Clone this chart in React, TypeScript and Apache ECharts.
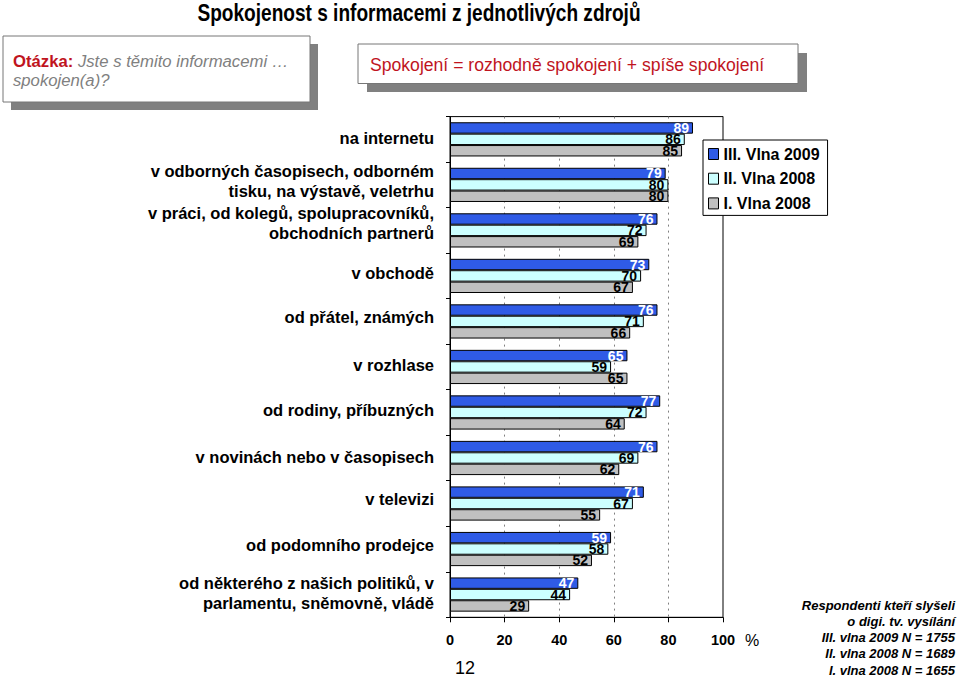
import React, { useEffect, useRef } from 'react';
import * as echarts from 'echarts';

const categories = [
  'na internetu',
  'v odborných časopisech, odborném\ntisku, na výstavě, veletrhu',
  'v práci, od kolegů, spolupracovníků,\nobchodních partnerů',
  'v obchodě',
  'od přátel, známých',
  'v rozhlase',
  'od rodiny, příbuzných',
  'v novinách nebo v časopisech',
  'v televizi',
  'od podomního prodejce',
  'od některého z našich politiků, v\nparlamentu, sněmovně, vládě',
];
const wave3 = [89, 79, 76, 73, 76, 65, 77, 76, 71, 59, 47];
const wave2 = [86, 80, 72, 70, 71, 59, 72, 69, 67, 58, 44];
const wave1 = [85, 80, 69, 67, 66, 65, 64, 62, 55, 52, 29];
const seriesNames = ['III. Vlna 2009', 'II. Vlna 2008', 'I. Vlna 2008'];
const axisMin = 0;
const axisMax = 100;
const axisStep = 20;
const titleText = 'Spokojenost s informacemi z jednotlivých zdrojů';
const questionLabel = 'Otázka:';
const questionText = ['Jste s těmito informacemi …', 'spokojen(a)?'];
const definitionText = 'Spokojení = rozhodně spokojení + spíše spokojení';
const footnoteLines = [
  'Respondenti kteří slyšeli',
  'o digi. tv. vysílání',
  'III. vlna 2009 N = 1755',
  'II. vlna 2008 N = 1689',
  'I. vlna 2008 N = 1655',
];
const unitText = '%';
const pageNumber = '12';

// styling (not data)
const seriesColors = ['#2F5BE6', '#CCFFFF', '#C0C0C0'];
const labelColors = ['#FFFFFF', '#000000', '#000000'];
const labelLift = [1, 4, 7, 3, 4, 2, 2, 1, 5, 4, 2];
const FONT = '"Liberation Sans", Arial, Helvetica, sans-serif';
const RED = '#C0141E';

export default function App() {
  const ref = useRef<HTMLDivElement>(null);
  useEffect(() => {
    if (!ref.current) return;
    const chart = echarts.init(ref.current, undefined, { renderer: 'svg' });
    const data = [wave3, wave2, wave1];
    const rich: any = {
      t: { fontFamily: FONT, fontSize: 16.5, fontWeight: 'bold', color: '#000', lineHeight: 20, align: 'right' },
    };
    labelLift.forEach((l, i) => {
      rich['s' + i] = { fontSize: 1, lineHeight: Math.max(1, l * 2), color: 'transparent' };
    });
    const option: any = {
      animation: false,
      backgroundColor: '#FFFFFF',
      textStyle: { fontFamily: FONT },
      grid: { left: 450, right: 237, top: 116.6, bottom: 60.7, show: true, borderColor: '#000', borderWidth: 1, backgroundColor: 'transparent' },
      legend: {
        orient: 'vertical',
        left: 703,
        top: 140,
        padding: [5, 8, 3, 5],
        itemWidth: 10,
        itemHeight: 11,
        itemGap: 6.7,
        borderColor: '#000',
        borderWidth: 1,
        backgroundColor: '#FFFFFF',
        textStyle: { fontFamily: FONT, fontSize: 16, fontWeight: 'bold', color: '#000', lineHeight: 18 },
        itemStyle: { borderColor: '#000', borderWidth: 1 },
        data: seriesNames.map((n) => ({ name: n, icon: 'rect' })),
      },
      xAxis: {
        type: 'value',
        min: axisMin,
        max: axisMax,
        interval: axisStep,
        axisLine: { show: true, lineStyle: { color: '#000', width: 1 } },
        axisTick: { show: true, length: 5, lineStyle: { color: '#000' } },
        axisLabel: { fontFamily: FONT, fontSize: 14.5, fontWeight: 'bold', color: '#000', margin: 15 },
        splitLine: { show: true, lineStyle: { color: '#808080', type: [2, 4], width: 1 } },
      },
      yAxis: {
        type: 'category',
        inverse: true,
        data: categories,
        axisLine: { show: true, lineStyle: { color: '#000', width: 1 } },
        axisTick: { show: true, length: 4, lineStyle: { color: '#000' } },
        axisLabel: {
          fontFamily: FONT,
          fontSize: 16.5,
          fontWeight: 'bold',
          color: '#000',
          margin: 16,
          lineHeight: 20,
          align: 'right',
          formatter: (value: string, index: number) =>
            value.split('\n').map((l) => `{t|${l}}`).join('\n') + `\n{s${index}| }`,
          rich,
        },
        splitLine: { show: false },
      },
      series: data.map((d, i) => ({
        type: 'bar',
        name: seriesNames[i],
        data: d,
        barWidth: 11.4,
        barGap: '0%',
        itemStyle: { color: seriesColors[i], borderColor: '#000', borderWidth: 1 },
        label: {
          show: true,
          position: 'insideRight',
          distance: 4,
          fontFamily: FONT,
          fontSize: 14,
          fontWeight: 'bold',
          color: labelColors[i],
        },
      })),
      graphic: [
        { type: 'text', x: 419, y: 13, scaleX: 0.83, style: { x: 0, y: 0, text: titleText, font: `bold 23px ${FONT}`, fill: '#000', textAlign: 'center', textVerticalAlign: 'middle' } },
        { type: 'rect', shape: { x: 11, y: 44, width: 307, height: 66 }, style: { fill: '#808080' } },
        { type: 'rect', shape: { x: 3, y: 36, width: 307, height: 66 }, style: { fill: '#FFFFFF', stroke: '#777777', lineWidth: 1 } },
        {
          type: 'text',
          style: {
            x: 13,
            y: 52,
            text: `{b|${questionLabel}} {i|${questionText[0]}}\n{i|${questionText[1]}}`,
            fontFamily: FONT,
            fontSize: 16.7,
            lineHeight: 19,
            rich: {
              b: { fontFamily: FONT, fontSize: 16.7, fontWeight: 'bold', fill: RED, lineHeight: 19 },
              i: { fontFamily: FONT, fontSize: 16.7, fontStyle: 'italic', fill: '#808080', lineHeight: 19 },
            },
          },
        },
        { type: 'rect', shape: { x: 367, y: 53, width: 440, height: 39 }, style: { fill: '#808080' } },
        { type: 'rect', shape: { x: 358, y: 44, width: 440, height: 39.5 }, style: { fill: '#FFFFFF', stroke: '#777777', lineWidth: 1 } },
        { type: 'text', style: { x: 370, y: 65, text: definitionText, font: `17.6px ${FONT}`, fill: RED, textAlign: 'left', textVerticalAlign: 'middle' } },
        { type: 'text', style: { x: 752, y: 640, text: unitText, font: `16px ${FONT}`, fill: '#000', textAlign: 'center', textVerticalAlign: 'middle' } },
        { type: 'text', style: { x: 465, y: 668, text: pageNumber, font: `18px ${FONT}`, fill: '#000', textAlign: 'center', textVerticalAlign: 'middle' } },
        ...footnoteLines.map((t, i) => ({
          type: 'text',
          style: { x: 955, y: 605 + i * 16.3, text: t, font: `italic bold 13px ${FONT}`, fill: '#000', textAlign: 'right', textVerticalAlign: 'middle' },
        })),
      ],
    };
    chart.setOption(option);
    return () => chart.dispose();
  }, []);
  return <div ref={ref} style={{ position: 'fixed', left: 0, top: 0, width: 960, height: 678 }} />;
}
